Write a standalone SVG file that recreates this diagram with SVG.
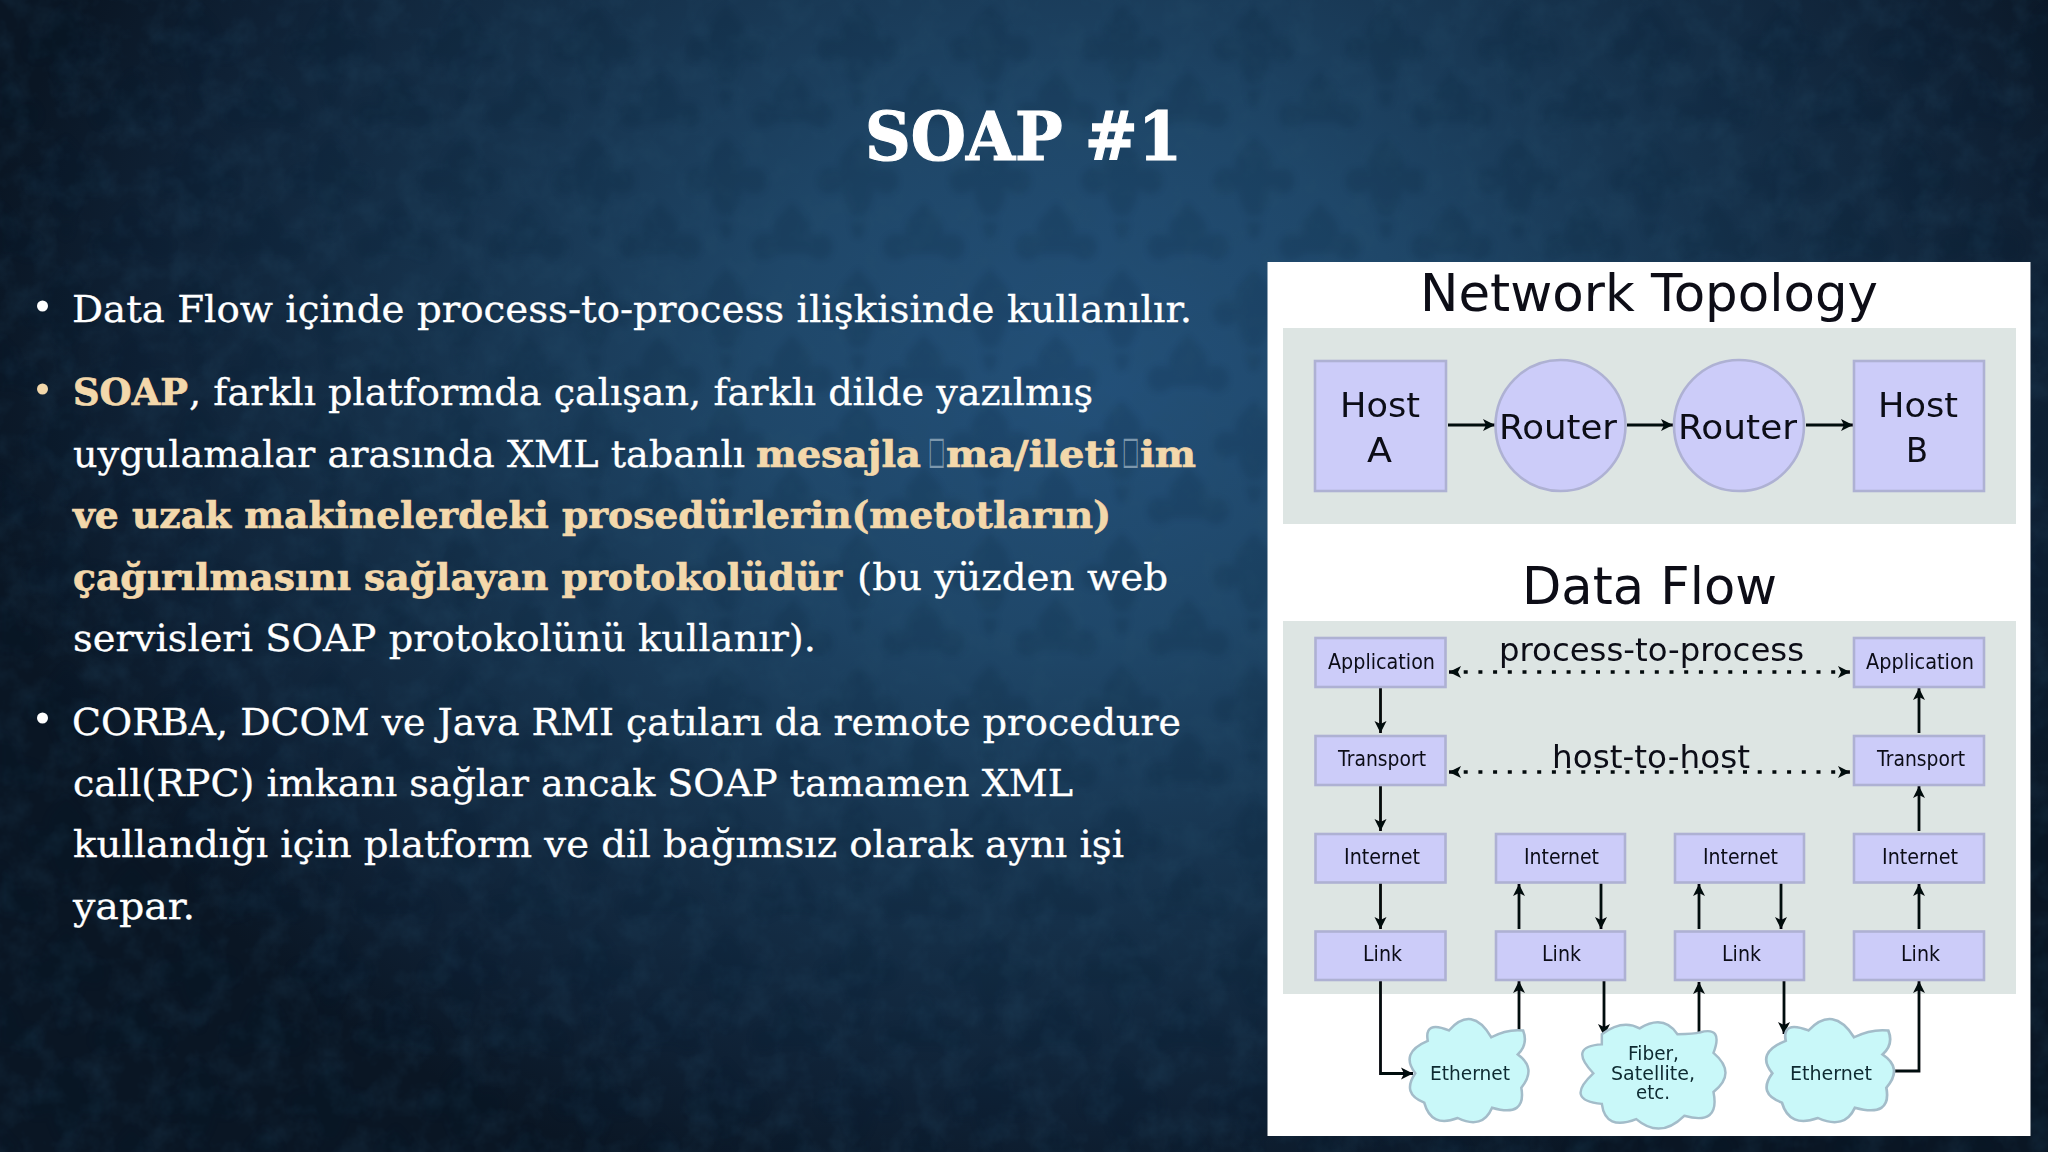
<svg xmlns="http://www.w3.org/2000/svg" width="2048" height="1152" viewBox="0 0 2048 1152">
<defs>
<radialGradient id="bgfill" gradientUnits="userSpaceOnUse" cx="0" cy="0" r="1" gradientTransform="translate(1090 380) scale(1120 860)">
<stop offset="0" stop-color="#235079"/>
<stop offset="0.3" stop-color="#1f4769"/>
<stop offset="0.6" stop-color="#16324c"/>
<stop offset="0.85" stop-color="#0f2135"/>
<stop offset="1" stop-color="#0a1624"/>
</radialGradient>
<pattern id="damask" patternUnits="userSpaceOnUse" width="132" height="132">
<path d="M66 4 C76 18 88 22 84 38 C96 32 110 38 106 54 C100 66 88 62 82 56 C82 68 76 78 72 84 L60 84 C56 78 50 68 50 56 C44 62 32 66 26 54 C22 38 36 32 48 38 C44 22 56 18 66 4 Z M58 90 L74 90 L70 106 L62 106 Z" fill="#06182c"/>
<path d="M0 70 C10 84 22 88 18 104 C30 98 44 104 40 120 C34 132 22 128 16 122 L-16 122 C-22 128 -34 132 -40 120 C-44 104 -30 98 -18 104 C-22 88 -10 84 0 70 Z" fill="#06182c"/>
<path d="M132 70 C142 84 154 88 150 104 C162 98 176 104 172 120 C166 132 154 128 148 122 L116 122 C110 128 98 132 92 120 C88 104 102 98 114 104 C110 88 122 84 132 70 Z" fill="#06182c"/>
</pattern>
<filter id="soft" x="-2%" y="-2%" width="104%" height="104%"><feGaussianBlur stdDeviation="3"/></filter>
<filter id="mottle" x="0" y="0" width="100%" height="100%">
<feTurbulence type="fractalNoise" baseFrequency="0.035" numOctaves="4" seed="7"/>
<feColorMatrix values="0 0 0 0 0.02  0 0 0 0 0.08  0 0 0 0 0.15  0 0 0 1.4 -0.55"/>
</filter>
<filter id="imgblur" x="-5%" y="-5%" width="110%" height="110%"><feGaussianBlur stdDeviation="0.45"/></filter>
<marker id="ah" markerUnits="userSpaceOnUse" markerWidth="16" markerHeight="14" refX="13" refY="7" orient="auto-start-reverse">
<path d="M1 1 L13 7 L1 13 L4 7 Z" fill="#05070a"/>
</marker>
<style>
.w{font-family:"DejaVu Serif","Liberation Serif",serif;font-size:37px;fill:#ffffff;stroke:#ffffff;stroke-width:.3px}
.g{font-family:"DejaVu Serif","Liberation Serif",serif;font-size:37px;font-weight:700;fill:#f3d8ab;stroke:#f3d8ab;stroke-width:.7px}
.f{font-family:"DejaVu Sans","Liberation Sans",sans-serif;font-size:38px;fill:#7d98ad}
.t{font-family:"DejaVu Sans","Liberation Sans",sans-serif;fill:#0a0c18}
.h1{font-size:51px}.h2{font-size:34px}.h5{font-size:32px}.h3{font-size:21px}.h4{font-size:20px;fill:#0e2a30}
.gray{fill:#dde5e3}
.box{fill:#ccccf9;stroke:#aeb1d3;stroke-width:2.6}
.cloud{fill:#c9f8f9;stroke:#a3bcc9;stroke-width:2.4}
.ln{fill:none;stroke:#05070a;stroke-width:2.8}
.arr{marker-end:url(#ah)}
.dot{fill:none;stroke:#05070a;stroke-width:3.4;stroke-dasharray:4 10.7;marker-start:url(#ah);marker-end:url(#ah)}
</style>
<path id="eth" d="M1520 1031.7Q1525 1045 1515 1055Q1533.3 1068.3 1518.3 1087.3Q1523.3 1116.7 1490.7 1106.7Q1481.7 1128.3 1458.3 1116.7Q1433.3 1126.7 1426.7 1101.7Q1405 1093.3 1418.3 1073.3Q1403.3 1053.3 1430 1041.7Q1426.7 1021.7 1450 1031.7Q1471.7 1006.7 1490 1038.3Q1505 1030 1520 1031.7Z"/>
</defs>

<g id="background">
<rect width="2048" height="1152" fill="url(#bgfill)"/>
<rect width="2048" height="1152" fill="url(#damask)" opacity="0.13" filter="url(#soft)"/>
<rect width="2048" height="1152" filter="url(#mottle)" opacity="0.32"/>
</g>

<g id="title">
<text x="865" y="160" textLength="317" lengthAdjust="spacingAndGlyphs" style="font-family:'DejaVu Serif','Liberation Serif',serif;font-weight:700;font-size:67px;fill:#fff;stroke:#fff;stroke-width:1.2px">SOAP #1</text>
</g>

<g id="body-text">
<circle cx="42.5" cy="306" r="5.5" fill="#fff"/>
<text class="w" x="72" y="322" textLength="1120" lengthAdjust="spacingAndGlyphs">Data Flow içinde process-to-process ilişkisinde kullanılır.</text>
<circle cx="42.5" cy="389" r="5.5" fill="#f3d8ab"/>
<text class="g" x="73" y="405" textLength="115" lengthAdjust="spacingAndGlyphs">SOAP</text>
<text class="w" x="189" y="405" textLength="904" lengthAdjust="spacingAndGlyphs">, farklı platformda çalışan, farklı dilde yazılmış</text>
<text class="w" x="73" y="467" textLength="672" lengthAdjust="spacingAndGlyphs">uygulamalar arasında XML tabanlı</text>
<text class="g" x="756" y="467" textLength="165" lengthAdjust="spacingAndGlyphs">mesajla</text>
<text class="f" x="928" y="463" textLength="17" lengthAdjust="spacingAndGlyphs">□</text>
<text class="g" x="946" y="467" textLength="172" lengthAdjust="spacingAndGlyphs">ma/ileti</text>
<text class="f" x="1122" y="463" textLength="17" lengthAdjust="spacingAndGlyphs">□</text>
<text class="g" x="1140" y="467" textLength="56" lengthAdjust="spacingAndGlyphs">im</text>
<text class="g" x="73" y="528" textLength="1038" lengthAdjust="spacingAndGlyphs">ve uzak makinelerdeki prosedürlerin(metotların)</text>
<text class="g" x="73" y="590" textLength="769" lengthAdjust="spacingAndGlyphs">çağırılmasını sağlayan protokolüdür</text>
<text class="w" x="857" y="590" textLength="311" lengthAdjust="spacingAndGlyphs">(bu yüzden web</text>
<text class="w" x="73" y="651" textLength="743" lengthAdjust="spacingAndGlyphs">servisleri SOAP protokolünü kullanır).</text>
<circle cx="42.5" cy="718" r="5.5" fill="#fff"/>
<text class="w" x="72" y="735" textLength="1109" lengthAdjust="spacingAndGlyphs">CORBA, DCOM ve Java RMI çatıları da remote procedure</text>
<text class="w" x="73" y="796" textLength="1000" lengthAdjust="spacingAndGlyphs">call(RPC) imkanı sağlar ancak SOAP tamamen XML</text>
<text class="w" x="73" y="857" textLength="1051" lengthAdjust="spacingAndGlyphs">kullandığı için platform ve dil bağımsız olarak aynı işi</text>
<text class="w" x="73" y="919" textLength="122" lengthAdjust="spacingAndGlyphs">yapar.</text>
</g>

<g id="diagram" filter="url(#imgblur)">
<rect x="1267.5" y="262" width="763" height="874" fill="#fff"/>
<rect class="gray" x="1283" y="328" width="733" height="196"/>
<rect class="gray" x="1283" y="621" width="733" height="373"/>
<g id="heading-topology"><text class="t h1" x="1420" y="311" textLength="458" lengthAdjust="spacingAndGlyphs">Network Topology</text></g>
<g id="heading-dataflow"><text class="t h1" x="1522" y="604" textLength="255" lengthAdjust="spacingAndGlyphs">Data Flow</text></g>

<g id="connectors">
<path class="ln arr" d="M1448 425H1495"/>
<path class="ln arr" d="M1627 425H1673"/>
<path class="ln arr" d="M1806 425H1853"/>
<path class="dot" d="M1449 672H1850"/>
<path class="dot" d="M1449 772H1850"/>
<path class="ln arr" d="M1380.5 688V733"/>
<path class="ln arr" d="M1380.5 786V831"/>
<path class="ln arr" d="M1380.5 883V929"/>
<path class="ln arr" d="M1919 733V688"/>
<path class="ln arr" d="M1919 831V786"/>
<path class="ln arr" d="M1919 929V884"/>
<path class="ln arr" d="M1519 929V884"/>
<path class="ln arr" d="M1601 883V929"/>
<path class="ln arr" d="M1699 929V884"/>
<path class="ln arr" d="M1781 883V929"/>
<path class="ln arr" d="M1380.5 981V1073.5H1413"/>
<path class="ln arr" d="M1519 1033V981"/>
<path class="ln arr" d="M1604 981V1036"/>
<path class="ln arr" d="M1699 1034V982"/>
<path class="ln arr" d="M1784 981V1034"/>
<path class="ln arr" d="M1894 1071H1919V981"/>
</g>

<g id="host-a"><rect class="box" x="1315" y="361" width="131" height="130"/><text class="t h2" x="1340" y="417" textLength="80" lengthAdjust="spacingAndGlyphs">Host</text><text class="t h2" x="1367" y="462" textLength="25" lengthAdjust="spacingAndGlyphs">A</text></g>
<g id="router-1"><ellipse class="box" cx="1560.5" cy="425.5" rx="65" ry="65.5"/><text class="t h2" x="1499" y="439" textLength="118" lengthAdjust="spacingAndGlyphs">Router</text></g>
<g id="router-2"><ellipse class="box" cx="1739" cy="425.5" rx="65" ry="65.5"/><text class="t h2" x="1678" y="439" textLength="119" lengthAdjust="spacingAndGlyphs">Router</text></g>
<g id="host-b"><rect class="box" x="1854" y="361" width="130" height="130"/><text class="t h2" x="1878" y="417" textLength="80" lengthAdjust="spacingAndGlyphs">Host</text><text class="t h2" x="1906" y="462" textLength="22" lengthAdjust="spacingAndGlyphs">B</text></g>

<g id="label-process"><text class="t h5" x="1499" y="661" textLength="305" lengthAdjust="spacingAndGlyphs">process-to-process</text></g>
<g id="label-host"><text class="t h5" x="1552" y="768" textLength="198" lengthAdjust="spacingAndGlyphs">host-to-host</text></g>

<g id="app-a"><rect class="box" x="1315.5" y="638" width="130" height="49"/><text class="t h3" x="1328" y="669" textLength="107" lengthAdjust="spacingAndGlyphs">Application</text></g>
<g id="transport-a"><rect class="box" x="1315.5" y="736" width="130" height="49"/><text class="t h3" x="1338" y="766" textLength="88" lengthAdjust="spacingAndGlyphs">Transport</text></g>
<g id="internet-a"><rect class="box" x="1315.5" y="834" width="130" height="48.5"/><text class="t h3" x="1344" y="864" textLength="76" lengthAdjust="spacingAndGlyphs">Internet</text></g>
<g id="link-a"><rect class="box" x="1315.5" y="931.5" width="130" height="48.5"/><text class="t h3" x="1363" y="961" textLength="39" lengthAdjust="spacingAndGlyphs">Link</text></g>
<g id="internet-r1"><rect class="box" x="1496" y="834" width="129" height="48.5"/><text class="t h3" x="1524" y="864" textLength="75" lengthAdjust="spacingAndGlyphs">Internet</text></g>
<g id="link-r1"><rect class="box" x="1496" y="931.5" width="129" height="48.5"/><text class="t h3" x="1542" y="961" textLength="39" lengthAdjust="spacingAndGlyphs">Link</text></g>
<g id="internet-r2"><rect class="box" x="1675" y="834" width="129" height="48.5"/><text class="t h3" x="1703" y="864" textLength="75" lengthAdjust="spacingAndGlyphs">Internet</text></g>
<g id="link-r2"><rect class="box" x="1675" y="931.5" width="129" height="48.5"/><text class="t h3" x="1722" y="961" textLength="39" lengthAdjust="spacingAndGlyphs">Link</text></g>
<g id="app-b"><rect class="box" x="1854" y="638" width="130" height="49"/><text class="t h3" x="1866" y="669" textLength="108" lengthAdjust="spacingAndGlyphs">Application</text></g>
<g id="transport-b"><rect class="box" x="1854" y="736" width="130" height="49"/><text class="t h3" x="1877" y="766" textLength="88" lengthAdjust="spacingAndGlyphs">Transport</text></g>
<g id="internet-b"><rect class="box" x="1854" y="834" width="130" height="48.5"/><text class="t h3" x="1882" y="864" textLength="76" lengthAdjust="spacingAndGlyphs">Internet</text></g>
<g id="link-b"><rect class="box" x="1854" y="931.5" width="130" height="48.5"/><text class="t h3" x="1901" y="961" textLength="39" lengthAdjust="spacingAndGlyphs">Link</text></g>

<g id="cloud-ethernet-1">
<use href="#eth" class="cloud" transform="translate(1468 1073) scale(1.06 1.03) translate(-1468 -1073)"/>
<text class="t h4" x="1430" y="1080" textLength="80" lengthAdjust="spacingAndGlyphs">Ethernet</text>
</g>
<g id="cloud-fiber">
<path class="cloud" transform="translate(1652 1075) scale(1.03 1.02) translate(-1652 -1075)" d="M1603.3 1035Q1623.3 1020 1640 1029.3Q1663.3 1015 1676.7 1035Q1693.3 1035 1698.3 1033.3Q1721.7 1026.7 1711.7 1053.3Q1735 1073.3 1711.7 1091.7Q1718.3 1125 1683.3 1115Q1660 1138.3 1636.7 1118.3Q1606.7 1130 1603.3 1103.3Q1566.7 1100 1595 1073.3Q1570 1046.7 1603.3 1045Z"/>
<text class="t h4" x="1628" y="1060" textLength="51" lengthAdjust="spacingAndGlyphs">Fiber,</text>
<text class="t h4" x="1611" y="1080" textLength="84" lengthAdjust="spacingAndGlyphs">Satellite,</text>
<text class="t h4" x="1636" y="1099" textLength="34" lengthAdjust="spacingAndGlyphs">etc.</text>
</g>
<g id="cloud-ethernet-2">
<use href="#eth" class="cloud" transform="translate(1829 1073) scale(1.14 1.03) translate(-1468 -1073)"/>
<text class="t h4" x="1790" y="1080" textLength="82" lengthAdjust="spacingAndGlyphs">Ethernet</text>
</g>
</g>
</svg>
